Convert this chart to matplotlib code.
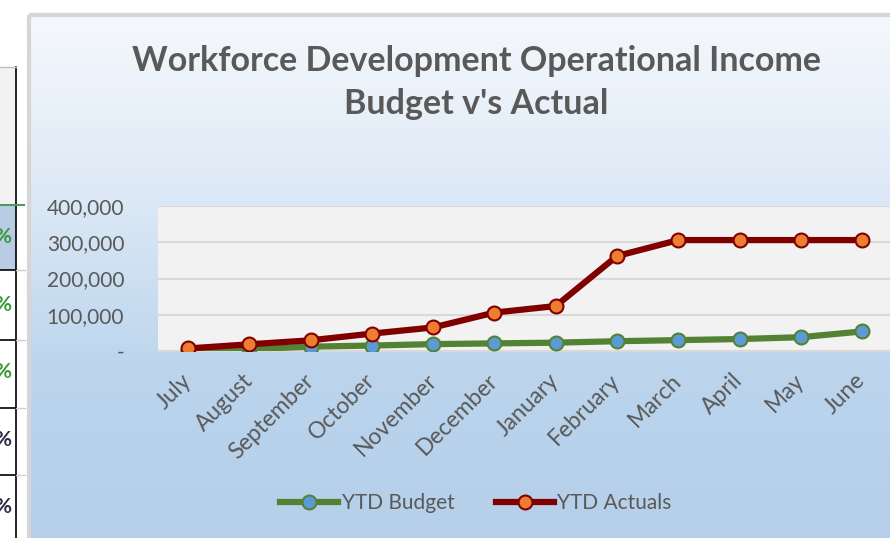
import numpy as np
import matplotlib
matplotlib.use('Agg')
import matplotlib.pyplot as plt
from matplotlib.patches import Rectangle
from matplotlib.colors import LinearSegmentedColormap
from matplotlib.ticker import FuncFormatter

months = ['July', 'August', 'September', 'October', 'November', 'December',
          'January', 'February', 'March', 'April', 'May', 'June']
ytd_budget = [1000, 5000, 12000, 15000, 19000, 21000,
              23000, 27000, 30000, 33000, 38000, 54000]
ytd_actuals = [7000, 18500, 29500, 48000, 65000, 106000,
               124000, 262000, 306000, 306000, 306000, 306000]
y_ticks = [0, 100000, 200000, 300000, 400000]

# cut-off spreadsheet cells at the left edge
cell_lines = [270, 340, 408, 475]
pct_rows = [237, 305, 372, 440, 507]
pct_colors = ['#3a9a3a', '#3a9a3a', '#3a9a3a', '#2b2b4a', '#2b2b4a']

grey = '#595959'
plt.rcParams['font.family'] = ['Lato', 'DejaVu Sans']

fig = plt.figure(figsize=(8.9, 5.38), dpi=100)
fig.patch.set_facecolor('white')

bg = fig.add_axes([0, 0, 1, 1])
bg.set_xlim(0, 890)
bg.set_ylim(538, 0)
bg.axis('off')

# table fragment
bg.add_patch(Rectangle((0, 67), 16, 138, fc='#f2f2f2', ec='none'))
bg.add_patch(Rectangle((0, 205), 16, 65, fc='#b8cce4', ec='none'))
bg.plot([16, 16], [67, 538], color='black', lw=1.2)
bg.plot([0, 16], [67, 67], color='#bfbfbf', lw=1)
bg.plot([0, 24], [205, 205], color='#4f9a5a', lw=1.5)
for y in cell_lines:
    bg.plot([0, 16], [y, y], color='black', lw=1.2)
    bg.plot([16, 25], [y, y], color='#d0d0d0', lw=1)
for y, c in zip(pct_rows, pct_colors):
    bg.text(3, y, '%', color=c, fontsize=15, fontweight='bold',
            ha='center', va='center')

# chart area with gradient
cmap = LinearSegmentedColormap.from_list('bg', ['#f5f8fc', '#dde9f6', '#bcd5ed', '#b5cfea'])
grad = np.linspace(0, 1, 256).reshape(-1, 1)
bg.imshow(grad, cmap=cmap, extent=[31, 895, 545, 17], aspect='auto', zorder=1)
bg.add_patch(Rectangle((29, 15), 880, 540, fc='none', ec='#d6d6d6', lw=3, zorder=2))

bg.text(476, 61, 'Workforce Development Operational Income', ha='center', va='center',
        fontsize=24.5, fontweight='bold', color=grey, zorder=3)
bg.text(476, 104, "Budget v's Actual", ha='center', va='center',
        fontsize=24.5, fontweight='bold', color=grey, zorder=3)

# plot area
left, right, top, bottom = 157.5, 892.7, 206, 351
ax = fig.add_axes([left / 890, (538 - bottom) / 538, (right - left) / 890, (bottom - top) / 538])
ax.set_facecolor('#f2f2f2')
x = np.arange(len(months))
ax.plot(x, ytd_budget, color='#548235', lw=4.5, marker='o', markersize=10,
        markerfacecolor='#5b9bd5', markeredgecolor='#548235', markeredgewidth=1.5,
        label='YTD Budget', zorder=3)
ax.plot(x, ytd_actuals, color='#800000', lw=4.5, marker='o', markersize=10,
        markerfacecolor='#ed7d31', markeredgecolor='#800000', markeredgewidth=1.5,
        label='YTD Actuals', zorder=4)
ax.set_xlim(-0.5, 11.5)
ax.set_ylim(0, 400000)
ax.set_yticks(y_ticks)
ax.yaxis.set_major_formatter(FuncFormatter(lambda v, p: '-' if v == 0 else f'{int(v):,}'))
ax.grid(axis='y', color='#d9d9d9', lw=1.5)
ax.set_axisbelow(True)
for s in ['top', 'right', 'left']:
    ax.spines[s].set_visible(False)
ax.spines['bottom'].set_color('#d9d9d9')
ax.spines['bottom'].set_linewidth(1.5)
ax.tick_params(axis='both', length=0, colors=grey, labelsize=15)
ax.tick_params(axis='y', pad=24)
ax.set_xticks(x)
ax.set_xticklabels(months, rotation=45, ha='right', va='center', rotation_mode='anchor',
                   fontsize=16.5)
ax.tick_params(axis='x', pad=19)

leg = ax.legend(loc='center', bbox_to_anchor=(476 / 890, 1 - 503 / 538), bbox_transform=fig.transFigure,
                ncol=2, frameon=False, fontsize=15, labelcolor=grey, handlelength=2.8,
                handletextpad=0.15, columnspacing=2.0)

fig.savefig('out.png', dpi=100)
